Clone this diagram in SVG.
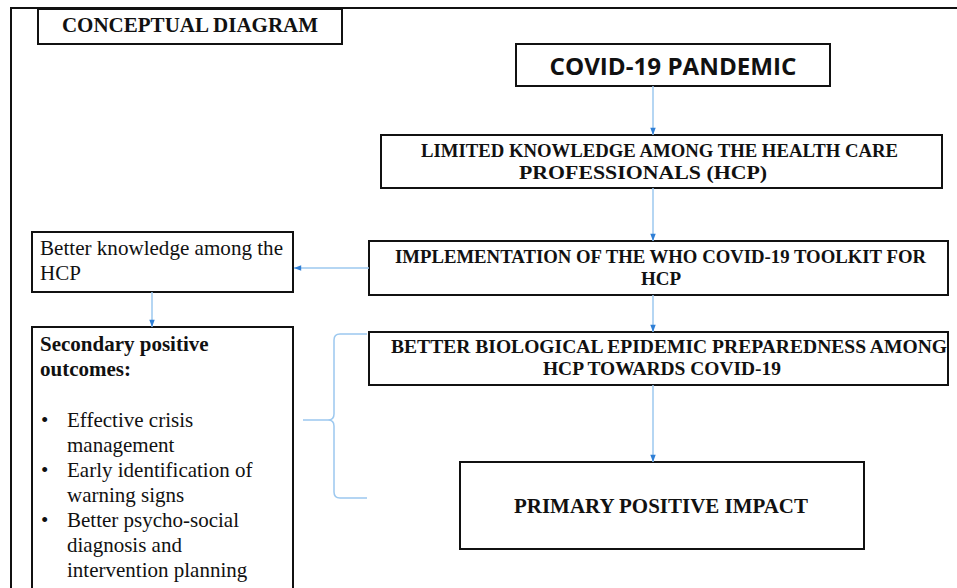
<svg xmlns="http://www.w3.org/2000/svg" width="957" height="588" viewBox="0 0 957 588">
<style>
.box{fill:#fff;stroke:#111;stroke-width:2}
.hd{font-family:"Liberation Serif",serif;font-weight:bold;fill:#111}
.tx{font-family:"Liberation Serif",serif;fill:#111;font-size:21px}
.cn{fill:none;stroke:#9cc8ef;stroke-width:1.5}
</style>
<defs>
<marker id="ah" viewBox="0 0 10 10" refX="9" refY="5" markerWidth="6" markerHeight="6" orient="auto">
<path d="M1,2 L9,5 L1,8 Z" fill="#2f7fd6"/>
</marker>
</defs>
<rect fill="#fff" width="957" height="588"/>
<rect x="11" y="8" width="960" height="600" fill="none" stroke="#111" stroke-width="2"/>
<g id="title"><rect class="box" x="38" y="9" width="304" height="35"/>
<text class="hd" x="190" y="32" font-size="21" text-anchor="middle">CONCEPTUAL DIAGRAM</text></g>
<g id="covid"><rect class="box" x="516" y="44" width="314" height="42"/>
<text x="673" y="75" font-family="'Open Sans','Liberation Sans',sans-serif" font-weight="bold" font-size="24" text-anchor="middle" textLength="247" lengthAdjust="spacingAndGlyphs" fill="#111">COVID-19 PANDEMIC</text></g>
<g id="limited"><rect class="box" x="381" y="135" width="561" height="53"/>
<text class="hd" font-size="19" x="421" y="157" textLength="477" lengthAdjust="spacingAndGlyphs">LIMITED KNOWLEDGE AMONG THE HEALTH CARE</text>
<text class="hd" font-size="19" x="519" y="179" textLength="248" lengthAdjust="spacingAndGlyphs">PROFESSIONALS (HCP)</text></g>
<g id="implementation"><rect class="box" x="369" y="241" width="579" height="54"/>
<text class="hd" font-size="19" x="395" y="263" textLength="531" lengthAdjust="spacingAndGlyphs">IMPLEMENTATION OF THE WHO COVID-19 TOOLKIT FOR</text>
<text class="hd" font-size="19" x="661" y="285" text-anchor="middle">HCP</text></g>
<g id="better-bio"><rect class="box" x="369" y="332" width="579" height="53"/>
<text class="hd" font-size="19" x="391" y="353" textLength="556" lengthAdjust="spacingAndGlyphs">BETTER BIOLOGICAL EPIDEMIC PREPAREDNESS AMONG</text>
<text class="hd" font-size="19" x="543" y="375" textLength="238" lengthAdjust="spacingAndGlyphs">HCP TOWARDS COVID-19</text></g>
<g id="primary"><rect class="box" x="460" y="462" width="404" height="87"/>
<text class="hd" font-size="21" x="661" y="513" text-anchor="middle" textLength="294" lengthAdjust="spacingAndGlyphs">PRIMARY POSITIVE IMPACT</text></g>
<g id="better-knowledge"><rect class="box" x="32" y="232" width="261" height="60"/>
<text class="tx" x="40" y="255" textLength="243" lengthAdjust="spacingAndGlyphs">Better knowledge among the</text>
<text class="tx" x="40" y="280">HCP</text></g>
<g id="secondary"><rect class="box" x="32" y="327" width="261" height="280"/>
<text class="tx" font-weight="bold" x="40" y="351">Secondary positive</text>
<text class="tx" font-weight="bold" x="40" y="376">outcomes:</text>
<text class="tx" x="41" y="427">•</text><text class="tx" x="67" y="427">Effective crisis</text>
<text class="tx" x="67" y="452">management</text>
<text class="tx" x="41" y="477">•</text><text class="tx" x="67" y="477">Early identification of</text>
<text class="tx" x="67" y="502">warning signs</text>
<text class="tx" x="41" y="527">•</text><text class="tx" x="67" y="527">Better psycho-social</text>
<text class="tx" x="67" y="552">diagnosis and</text>
<text class="tx" x="67" y="577">intervention planning</text></g>
<g id="connectors">
<line class="cn" x1="653" y1="86" x2="653" y2="135" marker-end="url(#ah)"/>
<line class="cn" x1="653" y1="188" x2="653" y2="241" marker-end="url(#ah)"/>
<line class="cn" x1="653" y1="295" x2="653" y2="332" marker-end="url(#ah)"/>
<line class="cn" x1="653" y1="385" x2="653" y2="462" marker-end="url(#ah)"/>
<line class="cn" x1="369" y1="268" x2="294" y2="268" marker-end="url(#ah)"/>
<line class="cn" x1="152" y1="292" x2="152" y2="327" marker-end="url(#ah)"/>
<path class="cn" d="M367,334 H340 Q334,334 334,340 V414 Q334,420 328,420 H303 M328,420 Q334,420 334,426 V492 Q334,498 340,498 H367"/>
</g>
</svg>
